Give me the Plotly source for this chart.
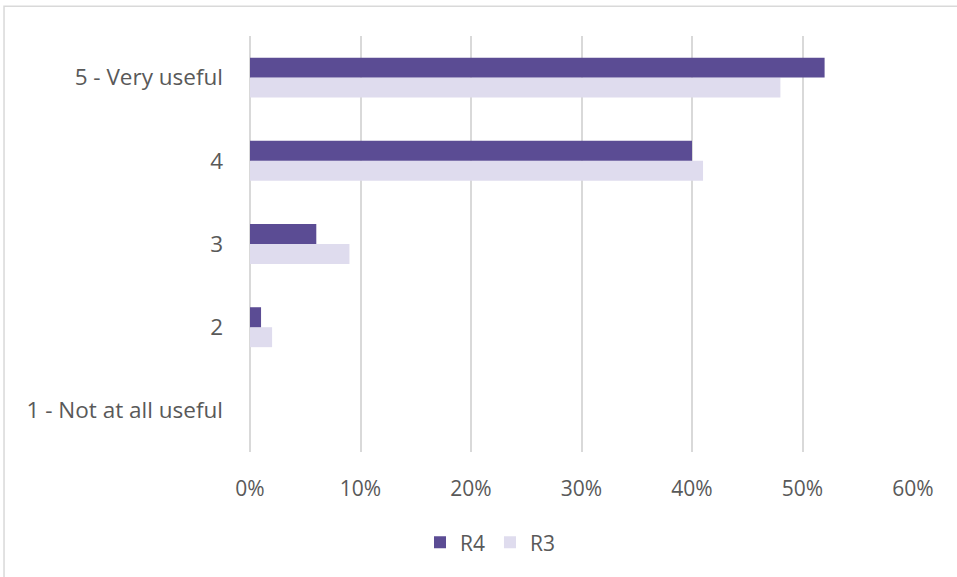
import plotly.graph_objects as go

categories = ["1 - Not at all useful", "2", "3", "4", "5 - Very useful"]
r4_values = [0.0, 0.01, 0.06, 0.40, 0.52]
r3_values = [0.0, 0.02, 0.09, 0.41, 0.48]
x_ticks = [0, 0.1, 0.2, 0.3, 0.4, 0.5, 0.6]
x_tick_labels = ["0%", "10%", "20%", "30%", "40%", "50%", "60%"]

R4_COLOR = "#5B4C94"
R3_COLOR = "#DFDCEE"
FONT = "Open Sans, Noto Sans, sans-serif"
TEXT = "#595959"

fig = go.Figure()
fig.add_trace(go.Bar(
    name="R3", y=categories, x=r3_values, orientation="h",
    marker=dict(color=R3_COLOR, line=dict(width=0)),
))
fig.add_trace(go.Bar(
    name="R4", y=categories, x=r4_values, orientation="h",
    marker=dict(color=R4_COLOR, line=dict(width=0)),
))

fig.update_layout(
    width=957, height=577,
    paper_bgcolor="white", plot_bgcolor="white",
    margin=dict(l=250, r=44, t=36, b=125),
    barmode="group", bargap=0.52, bargroupgap=0,
    font=dict(family=FONT, size=21, color=TEXT),
    showlegend=True,
    legend=dict(orientation="h", x=0.362, xanchor="center", y=-0.218, yanchor="middle",
                traceorder="reversed", font=dict(size=21, color=TEXT),
                itemwidth=30),
    xaxis=dict(range=[0, 0.6], tickvals=x_ticks, ticktext=x_tick_labels,
               showgrid=True, gridcolor="#D9D9D9", gridwidth=1.5,
               zeroline=True, zerolinecolor="#D9D9D9", zerolinewidth=1.5,
               showline=False, ticks="", ticklabelstandoff=22,
               tickfont=dict(size=21, color=TEXT)),
    yaxis=dict(categoryorder="array", categoryarray=categories,
               showgrid=False, showline=False, ticks="",
               ticklabelstandoff=26, tickfont=dict(size=22.5, color=TEXT)),
    shapes=[dict(type="rect", xref="paper", yref="paper",
                 x0=-0.371, x1=1.2, y0=-0.5, y1=1.0715,
                 line=dict(color="#D9D9D9", width=1.5), fillcolor="rgba(0,0,0,0)",
                 layer="below")],
)

fig.write_html("out.html", config={"displayModeBar": False},
               post_script="document.body.style.margin='0';document.body.style.padding='0';")
